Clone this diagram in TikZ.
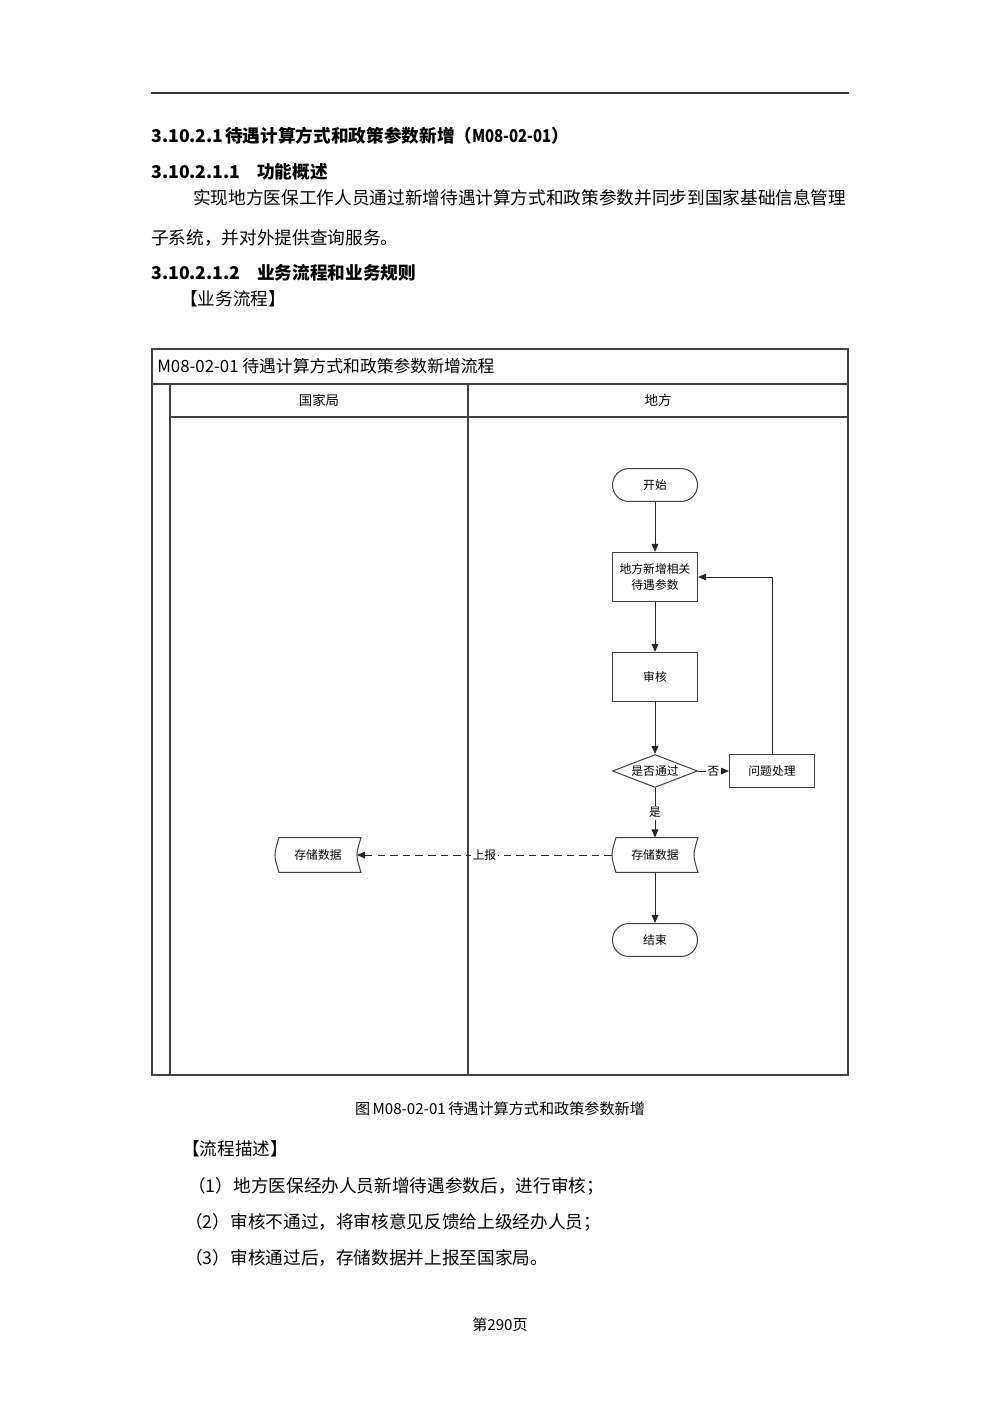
\documentclass[tikz,border=0pt]{standalone}
\usepackage{fontspec}
\setmainfont{Noto Sans CJK SC}
\usetikzlibrary{arrows.meta, shapes.geometric}
\tikzset{>={Triangle[length=4.8pt,width=4pt]}}
\tikzset{
  txt/.style={anchor=west, inner sep=0pt, font=\fontsize{10.5pt}{13pt}\selectfont},
  hd/.style={txt, font=\fontsize{10.5pt}{13pt}\selectfont\bfseries},
  lane/.style={line width=0.7pt, draw=black!75},
  box/.style={draw=black!75, line width=0.6pt, minimum width=50.6pt, minimum height=29.2pt, inner sep=1pt, align=center, font=\fontsize{7pt}{9.5pt}\selectfont},
  term/.style={box, rounded corners=9.8pt, minimum height=19.6pt},
  cond/.style={box, diamond, aspect=2.58, minimum height=19.6pt, inner sep=0pt},
  store/.style={box, draw=none, minimum height=20.2pt},
  flow/.style={->, line width=0.6pt, draw=black!85},
  lbl/.style={fill=white, inner sep=1pt, font=\fontsize{7pt}{8pt}\selectfont},
  capt/.style={inner sep=0pt, font=\fontsize{9pt}{11pt}\selectfont}
}
\begin{document}
\begin{tikzpicture}[x=0.595pt, y=-0.595pt]
\useasboundingbox (0,0) rectangle (1000,1415);
\draw[line width=1.3pt, black!80] (151,93) -- (849,93);
\node[hd] (h1) at (151,136) {\makebox[44pt][l]{3.10.2.1}待遇计算方式和政策参数新增（\scalebox{0.85}[1]{M08-02-01}）};
\node[hd] (h2) at (151,172) {\makebox[63pt][l]{3.10.2.1.1}功能概述};
\node[txt] (p1) at (193,198) {实现地方医保工作人员通过新增待遇计算方式和政策参数并同步到国家基础信息管理};
\node[txt] (p2) at (151,238) {子系统，并对外提供查询服务。};
\node[hd] (h3) at (151,273) {\makebox[63pt][l]{3.10.2.1.2}业务流程和业务规则};
\node[txt] (p3) at (180,299) {【业务流程】};

\draw[lane] (152,349) rectangle (848,1075);
\draw[lane] (152,384) -- (848,384) (170,417) -- (848,417) (170,384) -- (170,1075) (468,384) -- (468,1075);
\node[txt, font=\fontsize{10pt}{12pt}\selectfont] (title) at (157,366) {M08-02-01 待遇计算方式和政策参数新增流程};
\node[font=\fontsize{8pt}{10pt}\selectfont] (gj) at (319,400) {国家局};
\node[font=\fontsize{8pt}{10pt}\selectfont] (df) at (658,400) {地方};

\node[term] (start) at (655,485) {开始};
\node[box] (add) at (655,577) {地方新增相关\\待遇参数};
\node[box] (audit) at (655,677) {审核};
\node[cond] (pass) at (655,771) {是否通过};
\node[box, minimum height=20.2pt] (fix) at (772,771) {问题处理};
\node[store] (sl) at (655,855) {存储数据};
\node[store] (sn) at (318,855) {存储数据};
\node[term] (end) at (655,940) {结束};
\foreach \n in {sl,sn}
  \draw[black!75, line width=0.6pt] ([xshift=2.4pt]\n.north west) -- (\n.north east) .. controls ([xshift=-3.2pt]\n.east) .. (\n.south east) -- ([xshift=2.4pt]\n.south west) .. controls ([xshift=-0.8pt]\n.west) .. cycle;

\draw[flow] (start) -- (add);
\draw[flow] (add) -- (audit);
\draw[flow] (audit) -- (pass);
\draw[flow] (pass) -- node[lbl]{否} (fix);
\draw[flow] (fix.north) |- (add.east);
\draw[flow] (pass) -- node[lbl]{是} (sl);
\draw[flow] (sl) -- (end);
\draw[flow, dash pattern=on 4.5pt off 3pt] (sl.west) -- node[lbl]{上报} ([xshift=-2.4pt]sn.east);

\node[capt] (cap) at (500,1109) {图\,M08-02-01\,待遇计算方式和政策参数新增};
\node[txt] (p4) at (182,1149) {【流程描述】};
\node[txt] (l1) at (188,1186) {（1）地方医保经办人员新增待遇参数后，进行审核；};
\node[txt] (l2) at (185,1222) {（2）审核不通过，将审核意见反馈给上级经办人员；};
\node[txt] (l3) at (185,1258) {（3）审核通过后，存储数据并上报至国家局。};
\node[capt] (pg) at (500,1325) {第290页};
\end{tikzpicture}
\end{document}
